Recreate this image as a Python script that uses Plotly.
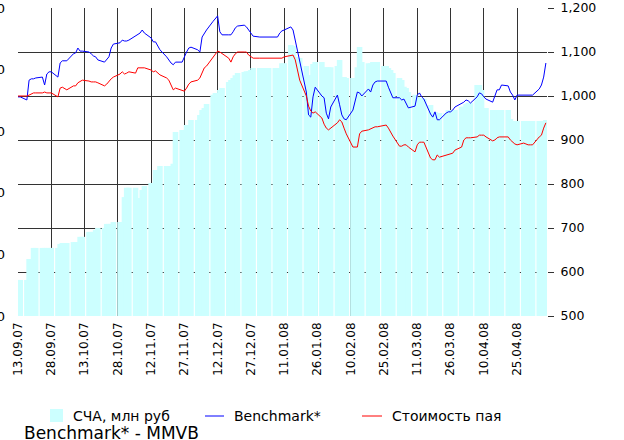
import pandas as pd
import plotly.graph_objects as go

# Trading days (weekdays) covered by the chart
dates = pd.bdate_range("2007-09-13", "2008-05-08")

# СЧА, млн руб (left axis, bars)
nav = [
    117, 117,
    117, 185, 185, 221, 221,
    221, 221, 221, 221, 221,
    221, 234, 237, 237, 237,
    240, 240, 240, 257, 257,
    273, 273, 273, 279, 286,
    286, 299, 299, 299, 305,
    305, 305, 386, 416, 416,
    416, 383, 383, 409, 422,
    432, 432, 474, 474, 487,
    487, 487, 487, 494, 597,
    604, 604, 620, 620, 636,
    636, 653, 669, 675, 688,
    718, 724, 724, 734, 740,
    760, 766, 773, 782, 789,
    792, 795, 795, 799, 805,
    805, 805, 805, 805, 805,
    805, 805, 805, 821, 821,
    880, 877, 841, 831, 838,
    812, 782, 782, 818, 825,
    825, 808, 808, 808, 808,
    812, 831, 776, 776, 773,
    773, 773, 808, 873, 825,
    821, 821, 825, 825, 825,
    812, 812, 805, 799, 789,
    773, 766, 744, 740, 727,
    718, 711, 708, 708, 705,
    685, 662, 662, 659, 659,
    659, 669, 669, 669, 669,
    679, 679, 688, 692, 692,
    750, 750, 734, 675, 675,
    669, 669, 669, 669, 669,
    669, 640, 633, 633, 633,
    633, 633, 633, 633, 633,
    633, 633, 633, 636,
]

# Benchmark* (right axis)
bench = [
    998, 998,
    991, 1036, 1039, 1039, 1041,
    1043, 1025, 1050, 1055, 1055,
    1043, 1075, 1080, 1080, 1080,
    1096, 1098, 1109, 1102, 1102,
    1100, 1096, 1091, 1089, 1082,
    1077, 1082, 1089, 1109, 1118,
    1121, 1127, 1125, 1125, 1127,
    1136, 1139, 1143, 1150, 1143,
    1132, 1123, 1123, 1114, 1105,
    1089, 1082, 1075, 1071, 1077,
    1077, 1091, 1100, 1109, 1111,
    1105, 1100, 1134, 1143, 1150,
    1170, 1177, 1182, 1146, 1139,
    1139, 1139, 1146, 1155, 1159,
    1161, 1157, 1150, 1143, 1136,
    1134, 1134, 1134, 1134, 1134,
    1134, 1134, 1143, 1148, 1150,
    1157, 1150, 1127, 1100, 1077,
    1009, 957, 952, 998, 1020,
    1000, 996, 961, 948, 975,
    1002, 980, 957, 948, 946,
    968, 991, 1009, 1007, 1000,
    1016, 1009, 1025, 1032, 1034,
    1034, 1034, 1020, 1007, 996,
    996, 991, 993, 984, 973,
    977, 1002, 1007, 998, 993,
    959, 952, 964, 946, 946,
    961, 964, 964, 968, 975,
    982, 986, 991, 989, 984,
    998, 1007, 1005, 998, 993,
    986, 1002, 1014, 1014, 1025,
    1023, 1009, 1002, 991, 1002,
    1002, 1002, 1002, 1002, 1002,
    1016, 1025, 1043, 1075,
]

# Стоимость пая (right axis)
unit = [
    1000, 1000,
    1000, 1002, 1005, 1007, 1007,
    1007, 1009, 1007, 1007, 1007,
    998, 1018, 1020, 1016, 1014,
    1023, 1023, 1030, 1034, 1036,
    1034, 1032, 1032, 1032, 1030,
    1023, 1027, 1034, 1039, 1043,
    1050, 1055, 1050, 1052, 1055,
    1052, 1064, 1064, 1064, 1064,
    1059, 1055, 1057, 1052, 1048,
    1041, 1036, 1025, 1014, 1018,
    1014, 1011, 1018, 1027, 1032,
    1036, 1041, 1055, 1064, 1068,
    1089, 1096, 1102, 1100, 1096,
    1086, 1077, 1089, 1096, 1100,
    1100, 1100, 1093, 1089, 1086,
    1086, 1086, 1086, 1086, 1086,
    1086, 1086, 1086, 1086, 1089,
    1091, 1093, 1082, 1059, 1036,
    1000, 977, 966, 961, 964,
    950, 936, 927, 923, 927,
    939, 946, 941, 927, 914,
    884, 884, 884, 914, 920,
    923, 925, 927, 930, 930,
    932, 934, 927, 918, 909,
    886, 886, 889, 889, 884,
    873, 889, 895, 895, 895,
    859, 855, 855, 866, 861,
    866, 868, 868, 870, 877,
    884, 900, 905, 905, 905,
    907, 911, 911, 911, 907,
    898, 900, 905, 907, 907,
    907, 900, 895, 891, 889,
    893, 891, 889, 889, 889,
    907, 911, 927, 939,
]

tick_dates = ["2007-09-13", "2007-09-28", "2007-10-13", "2007-10-28", "2007-11-12",
              "2007-11-27", "2007-12-12", "2007-12-27", "2008-01-11", "2008-01-26",
              "2008-02-10", "2008-02-25", "2008-03-11", "2008-03-26", "2008-04-10",
              "2008-04-25"]
tick_labels = ["13.09.07", "28.09.07", "13.10.07", "28.10.07", "12.11.07",
               "27.11.07", "12.12.07", "27.12.07", "11.01.08", "26.01.08",
               "10.02.08", "25.02.08", "11.03.08", "26.03.08", "10.04.08",
               "25.04.08"]

series_names = ["СЧА, млн руб", "Benchmark*", "Стоимость пая"]
colors = ["#CCFFFF", "#0000FF", "#FF0000"]

n = min(len(dates), len(nav), len(bench), len(unit))
dates = dates[:n]

FONT = "DejaVu Sans"
DAY = 86400000

fig = go.Figure()
fig.add_trace(go.Bar(x=dates, y=nav[:n], width=2.5 * DAY, name=series_names[0],
                     marker=dict(color=colors[0], line=dict(width=0)), yaxis="y"))
fig.add_trace(go.Scatter(x=dates, y=bench[:n], mode="lines", name=series_names[1],
                         line=dict(color=colors[1], width=1), yaxis="y2"))
fig.add_trace(go.Scatter(x=dates, y=unit[:n], mode="lines", name=series_names[2],
                         line=dict(color=colors[2], width=1), yaxis="y2"))

GRID = "#333333"
fig.update_layout(
    template="none",
    width=624, height=440,
    margin=dict(l=18, r=77, t=8, b=124, pad=0),
    paper_bgcolor="white", plot_bgcolor="white",
    showlegend=False,
    font=dict(family=FONT, size=13, color="black"),
    xaxis=dict(type="date", range=["2007-09-13", "2008-05-08 12:00"],
               tickvals=tick_dates, ticktext=tick_labels, tickangle=-90,
               tickfont=dict(size=12), showgrid=True, gridcolor=GRID, gridwidth=1,
               ticks="", showline=False, zeroline=False, automargin=False,
               ticklabelstandoff=3),
    yaxis=dict(range=[0, 1000], dtick=200, tickformat=",", side="left",
               showgrid=False, zeroline=False, ticks="", showline=False,
               ticklabelstandoff=12, automargin=False),
    yaxis2=dict(range=[500, 1200], dtick=100, tickformat=",", side="right",
                overlaying="y", showgrid=True, gridcolor=GRID, gridwidth=1,
                ticks="outside", ticklen=6, tickcolor=GRID, zeroline=False,
                showline=False, ticklabelstandoff=4, automargin=False,
                tickfont=dict(size=12.5)),
)

# Legend (drawn manually to match layout)
def px_x(px):
    return (px - 18) / 529.0

def px_y(py):
    return (316 - py) / 308.0

fig.add_shape(type="rect", xref="paper", yref="paper",
              x0=px_x(50), x1=px_x(63), y0=px_y(422), y1=px_y(409),
              fillcolor=colors[0], line=dict(width=0))
fig.add_shape(type="line", xref="paper", yref="paper",
              x0=px_x(205), x1=px_x(224), y0=px_y(416), y1=px_y(416),
              line=dict(color=colors[1], width=1))
fig.add_shape(type="line", xref="paper", yref="paper",
              x0=px_x(362), x1=px_x(382), y0=px_y(416), y1=px_y(416),
              line=dict(color=colors[2], width=1))
for txt, xpx in [(series_names[0], 71), (series_names[1], 232), (series_names[2], 390)]:
    fig.add_annotation(text=txt, xref="paper", yref="paper", x=px_x(xpx), y=px_y(416),
                       xanchor="left", yanchor="middle", showarrow=False,
                       font=dict(family=FONT, size=14, color="black"))

fig.add_annotation(text="Benchmark* - MMVB", xref="paper", yref="paper",
                   x=px_x(22), y=px_y(433), xanchor="left", yanchor="middle",
                   showarrow=False, font=dict(family=FONT, size=17, color="black"))

# Title, mostly outside the visible area (only descenders show)
fig.add_annotation(text="<b>СЧА, млн руб</b>", xref="paper", yref="paper",
                   x=px_x(2), y=px_y(-13), xanchor="left", yanchor="middle",
                   showarrow=False, font=dict(family=FONT, size=20, color="black"))

fig.write_html("out.html", config={"displayModeBar": False},
               post_script="document.body.style.margin='0';document.body.style.overflow='hidden';")
